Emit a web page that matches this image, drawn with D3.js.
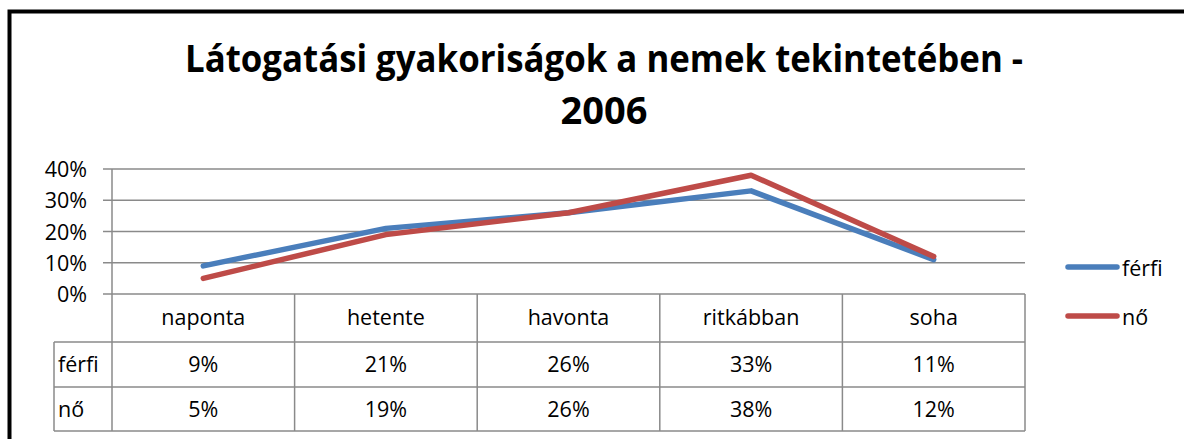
<!DOCTYPE html>
<html>
<head>
<meta charset="utf-8">
<script src="https://cdn.jsdelivr.net/npm/d3@7"></script>
<style>
  body { margin: 0; background: #fff; }
  text { font-family: "Open Sans", "Noto Sans", sans-serif; fill: #000; }
</style>
</head>
<body>
<div id="chart"></div>
<script>
// data
const categories = ["naponta", "hetente", "havonta", "ritkábban", "soha"];
const seriesNames = ["férfi", "nő"];
const ferfi = [0.09, 0.21, 0.26, 0.33, 0.11];
const no = [0.05, 0.19, 0.26, 0.38, 0.12];
const yTicks = [0, 0.1, 0.2, 0.3, 0.4];
const colors = ["#4a7ebb", "#be4b48"];

const W = 1184, H = 439;
const gridColor = "#8a8a8a";
const fs = "21.5px";

// plot area
let plotLeft = 112, plotRight = 1025, plotTop = 169, plotBottom = 294;
let rowH = 45;

let svg = d3.select("#chart").append("svg")
    .attr("width", W)
    .attr("height", H);

// outer frame (only left and top visible)
svg.append("rect")
    .attr("x", 9.5).attr("y", 11.5)
    .attr("width", W + 20).attr("height", H + 20)
    .attr("fill", "none")
    .attr("stroke", "#000")
    .attr("stroke-width", 4);

// title
svg.append("text")
    .attr("x", 604).attr("y", 72)
    .attr("text-anchor", "middle")
    .style("font-weight", "bold")
    .style("font-size", "38px")
    .attr("textLength", 838)
    .attr("lengthAdjust", "spacingAndGlyphs")
    .text("Látogatási gyakoriságok a nemek tekintetében -");
svg.append("text")
    .attr("x", 604).attr("y", 124)
    .attr("text-anchor", "middle")
    .style("font-weight", "bold")
    .style("font-size", "38px")
    .text("2006");

// scales
let x = d3.scaleBand()
    .domain(categories)
    .range([plotLeft, plotRight]);
let y = d3.scaleLinear()
    .domain([0, 0.4])
    .range([plotBottom, plotTop]);

// gridlines
svg.append("g").selectAll("line")
    .data(yTicks)
    .enter().append("line")
    .attr("x1", plotLeft - 9).attr("x2", plotRight)
    .attr("y1", d => y(d)).attr("y2", d => y(d))
    .attr("stroke", gridColor)
    .attr("stroke-width", 1.5);

// y axis labels
svg.append("g").selectAll("text")
    .data(yTicks)
    .enter().append("text")
    .attr("x", 87)
    .attr("y", d => y(d) + 8)
    .attr("text-anchor", "end")
    .style("font-size", fs)
    .text(d3.format(".0%"));

// y axis line
svg.append("line")
    .attr("x1", plotLeft).attr("x2", plotLeft)
    .attr("y1", plotTop).attr("y2", plotBottom + 48 + rowH * 2 - 1)
    .attr("stroke", gridColor).attr("stroke-width", 1.5);

// data table
const tableTop = plotBottom + 48;
const tableLeft = 54;
const tbl = svg.append("g");

// vertical dividers between categories
tbl.selectAll("line.v")
    .data(categories)
    .enter().append("line")
    .attr("class", "v")
    .attr("x1", d => x(d) + x.bandwidth()).attr("x2", d => x(d) + x.bandwidth())
    .attr("y1", plotBottom).attr("y2", tableTop + rowH * 2 - 1)
    .attr("stroke", gridColor).attr("stroke-width", 1.5);

// horizontal table lines
[tableTop, tableTop + rowH, tableTop + rowH * 2 - 1].forEach(yy => {
    tbl.append("line")
        .attr("x1", tableLeft).attr("x2", plotRight)
        .attr("y1", yy).attr("y2", yy)
        .attr("stroke", gridColor).attr("stroke-width", 1.5);
});
tbl.append("line")
    .attr("x1", tableLeft).attr("x2", tableLeft)
    .attr("y1", tableTop).attr("y2", tableTop + rowH * 2 - 1)
    .attr("stroke", gridColor).attr("stroke-width", 1.5);

// category labels
tbl.selectAll("text.cat")
    .data(categories)
    .enter().append("text")
    .attr("class", "cat")
    .attr("x", d => x(d) + x.bandwidth() / 2)
    .attr("y", plotBottom + 31)
    .attr("text-anchor", "middle")
    .style("font-size", fs)
    .text(d => d);

// value rows
const fmt = d3.format(".0%");
[ferfi, no].forEach((vals, i) => {
    let ry = tableTop + rowH * i + 30;
    tbl.append("text")
        .attr("x", 58).attr("y", ry)
        .style("font-size", fs)
        .text(seriesNames[i]);
    tbl.selectAll("text.val" + i)
        .data(vals)
        .enter().append("text")
        .attr("class", "val" + i)
        .attr("x", (d, j) => x(categories[j]) + x.bandwidth() / 2)
        .attr("y", ry)
        .attr("text-anchor", "middle")
        .style("font-size", fs)
        .text(d => fmt(d));
});

// lines
let line = d3.line()
    .x((d, i) => x(categories[i]) + x.bandwidth() / 2)
    .y(d => y(d));

[ferfi, no].forEach((vals, i) => {
    svg.append("path")
        .datum(vals)
        .attr("d", line)
        .attr("fill", "none")
        .attr("stroke", colors[i])
        .attr("stroke-width", 5.5)
        .attr("stroke-linejoin", "round")
        .attr("stroke-linecap", "round");
});

// legend
const legend = svg.append("g");
seriesNames.forEach((name, i) => {
    let ly = 267 + i * 49;
    legend.append("line")
        .attr("x1", 1068).attr("x2", 1117)
        .attr("y1", ly).attr("y2", ly)
        .attr("stroke", colors[i])
        .attr("stroke-width", 5.5)
        .attr("stroke-linecap", "round");
    legend.append("text")
        .attr("x", 1122).attr("y", ly + 9)
        .style("font-size", fs)
        .text(name);
});
</script>
</body>
</html>
